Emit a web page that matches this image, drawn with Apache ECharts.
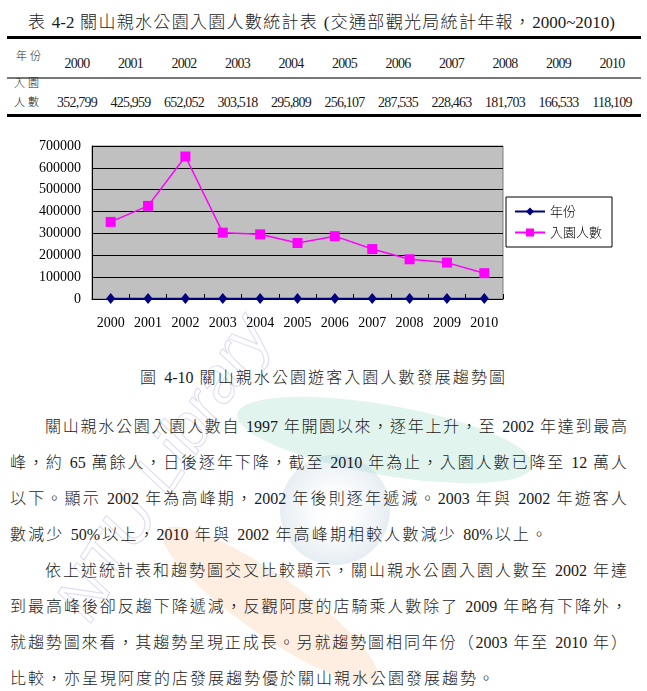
<!DOCTYPE html>
<html>
<head>
<meta charset="utf-8">
<script src="https://cdn.jsdelivr.net/npm/echarts@6/dist/echarts.min.js"></script>
<style>
html,body{margin:0;padding:0;background:#fff;}
#page{position:relative;width:647px;height:691px;overflow:hidden;font-family:"Liberation Serif","Noto Sans CJK TC",serif;color:#1a1a1a;font-weight:300;}
.abs{position:absolute;white-space:nowrap;}
.line{position:absolute;font-size:16px;line-height:20px;height:20px;overflow:visible;}
.just{text-align:justify;text-align-last:justify;white-space:normal;}
.nat{white-space:nowrap;letter-spacing:2px;}
.hr{position:absolute;left:7px;width:634px;}
#chart{position:absolute;left:0;top:0;width:647px;height:691px;}
.wm{position:absolute;pointer-events:none;}
</style>
</head>
<body>
<div id="page">
  <div class="wm" style="left:235px;top:405px;width:300px;height:70px;border-radius:50%;background:rgba(170,225,205,0.35);transform:rotate(10deg);"></div>
  <div class="wm" style="left:140px;top:575px;width:260px;height:60px;border-radius:50%;background:rgba(250,205,170,0.35);transform:rotate(35deg);"></div>
  <div class="wm" style="left:280px;top:455px;width:110px;height:110px;border-radius:50%;background:radial-gradient(circle, rgba(255,255,255,0.2) 20%, rgba(185,205,220,0.35) 70%, rgba(185,205,220,0) 100%);"></div>
  <div class="wm" style="left:-10px;top:430px;font:italic 64px 'Liberation Sans',sans-serif;color:transparent;-webkit-text-stroke:1px rgba(180,170,220,0.45);transform:rotate(-58deg);white-space:nowrap;">NTU Library</div>
  <div id="texts"></div>
  <div id="chart"></div>
</div>
<script>
// ---- data ----
const years = ['2000','2001','2002','2003','2004','2005','2006','2007','2008','2009','2010'];
const yearValues = [2000,2001,2002,2003,2004,2005,2006,2007,2008,2009,2010];
const visitors = [352799,425959,652052,303518,295809,256107,287535,228463,181703,166533,118109];
const seriesNames = ['年份','入園人數'];
const yMin = 0, yMax = 700000, yStep = 100000;

const titleText = '表 4-2 關山親水公園入園人數統計表 (交通部觀光局統計年報，2000~2010)';
const captionText = '圖 4-10 關山親水公園遊客入園人數發展趨勢圖';
const paraLines = [
  '關山親水公園入園人數自 1997 年開園以來，逐年上升，至 2002 年達到最高',
  '峰，約 65 萬餘人，日後逐年下降，截至 2010 年為止，入園人數已降至 12 萬人',
  '以下。顯示 2002 年為高峰期，2002 年後則逐年遞減。2003 年與 2002 年遊客人',
  '數減少 50%以上，2010 年與 2002 年高峰期相較人數減少 80%以上。',
  '依上述統計表和趨勢圖交叉比較顯示，關山親水公園入園人數至 2002 年達',
  '到最高峰後卻反趨下降遞減，反觀阿度的店騎乘人數除了 2009 年略有下降外，',
  '就趨勢圖來看，其趨勢呈現正成長。另就趨勢圖相同年份（2003 年至 2010 年）',
  '比較，亦呈現阿度的店發展趨勢優於關山親水公園發展趨勢。'
];

// ---- page text (HTML) ----
const T = document.getElementById('texts');
function add(html, style, cls){
  const d = document.createElement('div');
  d.className = cls || 'abs';
  d.setAttribute('style', style);
  d.textContent = html;
  T.appendChild(d);
  return d;
}
// title
add(titleText, 'left:28px;top:12px;width:587px;font-size:17px;line-height:22px;', 'abs just');
// table rules
add('', 'top:36px;height:2.5px;background:#000;', 'hr');
add('', 'top:77px;height:1.5px;background:#777;', 'hr');
add('', 'top:114px;height:3px;background:#000;', 'hr');
// table labels
add('年份', 'left:16px;top:49px;font-size:11px;letter-spacing:3px;line-height:14px;');
add('入園', 'left:14px;top:76px;font-size:11px;letter-spacing:3px;line-height:14px;');
add('人數', 'left:14px;top:95px;font-size:11px;letter-spacing:3px;line-height:14px;');
const colX0 = 77, colW = 53.5;
years.forEach((y,i)=>{
  add(y, 'left:'+(colX0+i*colW-30)+'px;width:60px;text-align:center;top:56px;font-size:14px;letter-spacing:-0.8px;line-height:16px;');
  add(visitors[i].toLocaleString('en-US'), 'left:'+(colX0+i*colW-30)+'px;width:60px;text-align:center;top:95px;font-size:14px;letter-spacing:-0.8px;line-height:16px;');
});
// caption
add(captionText, 'left:140px;top:368px;width:365px;font-size:16px;line-height:20px;', 'abs just');
// paragraph lines
const lineTop0 = 417, lineGap = 36;
const lineBox = [[45,582,'j'],[10,617,'j'],[10,617,'j'],[10,537,'j'],[45,582,'j'],[10,617,'j'],[10,617,'j'],[10,0,'n']];
paraLines.forEach((t,i)=>{
  const b = lineBox[i];
  if (b[2]==='j') add(t, 'left:'+b[0]+'px;top:'+(lineTop0+i*lineGap)+'px;width:'+b[1]+'px;', 'line just');
  else add(t, 'left:'+b[0]+'px;top:'+(lineTop0+i*lineGap)+'px;', 'line nat');
});

// ---- chart ----
const chart = echarts.init(document.getElementById('chart'), null, {renderer:'canvas'});
chart.setOption({
  animation:false,
  backgroundColor:'transparent',
  grid:{left:92, top:146, width:411, height:153, show:true, backgroundColor:'#c0c0c0', borderColor:'#808080', borderWidth:1},
  xAxis:{
    type:'category', data:years, boundaryGap:true,
    axisLine:{show:true, lineStyle:{color:'#000', width:1}},
    axisTick:{show:true, inside:true, length:5, lineStyle:{color:'#000'}},
    axisLabel:{fontFamily:'Liberation Serif', fontSize:14, color:'#000', margin:17}
  },
  yAxis:{
    type:'value', min:yMin, max:yMax, interval:yStep,
    axisLine:{show:true, lineStyle:{color:'#000', width:1}},
    axisTick:{show:false},
    splitLine:{show:true, lineStyle:{color:'#000', width:1}},
    axisLabel:{fontFamily:'Liberation Serif', fontSize:14, color:'#000', margin:11, formatter:(v)=>String(v)}
  },
  legend:{
    orient:'vertical', left:506, top:197,
    backgroundColor:'#fff', borderColor:'#000', borderWidth:1, borderRadius:0,
    padding:[8,10,8,8], itemGap:8, itemWidth:30, itemHeight:10,
    textStyle:{fontSize:13, fontFamily:'Noto Sans CJK TC', fontWeight:300, color:'#000'},
    data:seriesNames
  },
  series:[
    {name:seriesNames[0], type:'line', data:yearValues, symbol:'diamond', symbolSize:[9,11],
     lineStyle:{color:'#000080', width:1.5}, itemStyle:{color:'#000080'}},
    {name:seriesNames[1], type:'line', data:visitors, symbol:'rect', symbolSize:10,
     lineStyle:{color:'#ff00ff', width:1.5}, itemStyle:{color:'#ff00ff'}}
  ]
});
</script>
</body>
</html>
